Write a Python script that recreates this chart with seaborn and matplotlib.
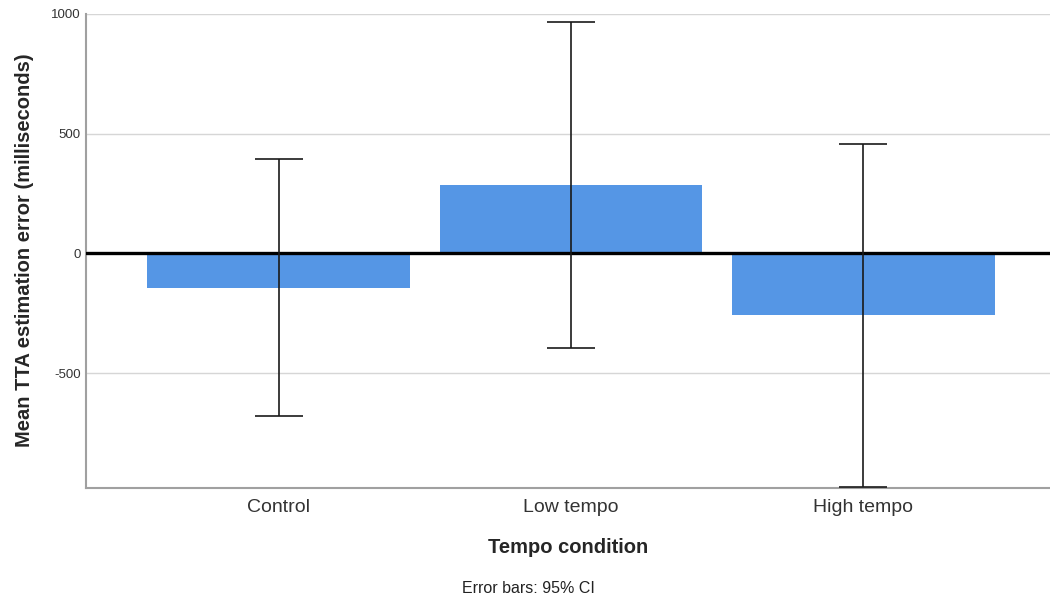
import numpy as np
import pandas as pd
import matplotlib
matplotlib.use('Agg')
import matplotlib.pyplot as plt
import seaborn as sns

# data (milliseconds)
categories = ['Control', 'Low tempo', 'High tempo']
mean_error = [-144, 285, -256]
ci_low = [-681, -394, -975]
ci_high = [394, 967, 457]
y_ticks = [-500, 0, 500, 1000]

sns.set_style('white')
plt.rcParams['font.family'] = ['Liberation Sans', 'DejaVu Sans']
plt.rcParams['axes.unicode_minus'] = False

df = pd.DataFrame({'condition': categories, 'mean': mean_error,
                   'low': ci_low, 'high': ci_high})

fig = plt.figure(figsize=(10.5, 5.99), dpi=100)
ax = fig.add_axes([0.082, 0.186, 0.918, 0.791])

sns.barplot(data=df, x='condition', y='mean', order=categories,
            color='#5596e5', saturation=1, width=0.9, errorbar=None,
            linewidth=0, ax=ax, zorder=2)

pos = np.arange(len(categories))
yerr = [df['mean'] - df['low'], df['high'] - df['mean']]
ax.errorbar(pos, df['mean'], yerr=yerr, fmt='none', ecolor='#1a1a1a',
            elinewidth=1.2, capsize=17, capthick=1.2, zorder=4, clip_on=False)

ax.axhline(0, color='black', linewidth=2.4, zorder=3)

ax.set_xlim(-0.66, 2.64)
ax.set_ylim(-978, 1000)
ax.set_yticks(y_ticks)
ax.yaxis.grid(True, color='#d6d6d6', linewidth=1)
ax.set_axisbelow(True)

for side in ['top', 'right']:
    ax.spines[side].set_visible(False)
for side in ['left', 'bottom']:
    ax.spines[side].set_color('#a0a0a0')
    ax.spines[side].set_linewidth(1.5)

ax.tick_params(axis='y', length=0, labelsize=9.5, labelcolor='#333333', pad=4)
ax.tick_params(axis='x', length=0, labelsize=14, labelcolor='#333333', pad=8)

ax.set_xlabel('Tempo condition', fontsize=14.5, fontweight='bold', labelpad=16)
ax.set_ylabel('Mean TTA estimation error (milliseconds)', fontsize=14.5,
              fontweight='bold', labelpad=12)

fig.text(0.503, 0.018, 'Error bars: 95% CI', ha='center', va='center',
         fontsize=11.5, color='#222222')

plt.savefig('out.png', dpi=100)
